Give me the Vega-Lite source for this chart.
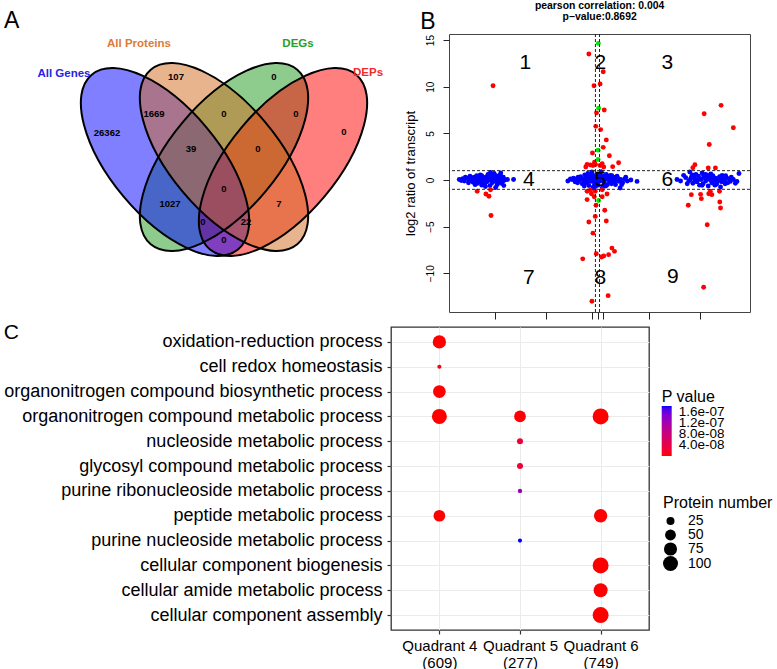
{
  "$schema": "https://vega.github.io/schema/vega-lite/v6.json",
  "padding": {"left": 3, "top": 0, "right": 0, "bottom": 0},
  "background": "white",
  "config": {
    "font": "Liberation Sans",
    "view": {"stroke": null},
    "axis": {"labelFont": "Liberation Sans", "titleFont": "Liberation Sans"},
    "legend": {"labelFont": "Liberation Sans", "titleFont": "Liberation Sans"}
  },
  "resolve": {"scale": {"color": "independent", "size": "independent"}, "legend": {"color": "independent", "size": "independent"}},
  "datasets": {
    "ellipses": [
      {"set": "DEGs", "x": 223, "y": 156, "tilt": -50},
      {"set": "DEPs", "x": 282, "y": 161, "tilt": -50},
      {"set": "All Genes", "x": 164, "y": 161, "tilt": 50},
      {"set": "All Proteins", "x": 223, "y": 156, "tilt": 50}
    ],
    "regions": [
      {"n": "26362", "x": 106, "y": 132}, {"n": "107", "x": 175, "y": 76}, {"n": "0", "x": 273, "y": 76},
      {"n": "0", "x": 343, "y": 131}, {"n": "1669", "x": 153, "y": 113}, {"n": "0", "x": 223, "y": 113},
      {"n": "0", "x": 295, "y": 113}, {"n": "39", "x": 190, "y": 148}, {"n": "0", "x": 257, "y": 148},
      {"n": "0", "x": 223, "y": 188}, {"n": "1027", "x": 169, "y": 203}, {"n": "7", "x": 278, "y": 203},
      {"n": "0", "x": 202, "y": 221}, {"n": "22", "x": 245, "y": 221}, {"n": "0", "x": 223, "y": 239}
    ],
    "setnames": [
      {"name": "All Genes", "x": 63, "y": 73}, {"name": "All Proteins", "x": 138, "y": 43},
      {"name": "DEGs", "x": 297, "y": 43}, {"name": "DEPs", "x": 367, "y": 72}
    ],
    "scatter": [
      {"p": -27.0, "t": 0.05, "type": "unchanged"}, {"p": -26.3, "t": 0.15, "type": "unchanged"}, {"p": -26.0, "t": -0.1, "type": "unchanged"},
      {"p": -25.4, "t": 0.2, "type": "unchanged"}, {"p": -25.1, "t": -0.05, "type": "unchanged"}, {"p": -24.6, "t": 0.1, "type": "unchanged"},
      {"p": -24.3, "t": -0.25, "type": "unchanged"}, {"p": -24.0, "t": 0.3, "type": "unchanged"}, {"p": -23.7, "t": 0.0, "type": "unchanged"},
      {"p": -23.4, "t": -0.35, "type": "unchanged"}, {"p": -23.1, "t": 0.25, "type": "unchanged"}, {"p": -22.8, "t": -0.1, "type": "unchanged"},
      {"p": -22.6, "t": 0.45, "type": "unchanged"}, {"p": -22.3, "t": 0.1, "type": "unchanged"}, {"p": -22.1, "t": -0.45, "type": "unchanged"},
      {"p": -21.8, "t": 0.3, "type": "unchanged"}, {"p": -21.6, "t": -0.2, "type": "unchanged"}, {"p": -21.4, "t": 0.6, "type": "unchanged"},
      {"p": -21.2, "t": 0.0, "type": "unchanged"}, {"p": -21.0, "t": -0.6, "type": "unchanged"}, {"p": -20.8, "t": 0.35, "type": "unchanged"},
      {"p": -20.6, "t": -0.3, "type": "unchanged"}, {"p": -20.4, "t": 0.15, "type": "unchanged"}, {"p": -20.2, "t": 0.7, "type": "unchanged"},
      {"p": -20.0, "t": -0.15, "type": "unchanged"}, {"p": -19.8, "t": 0.45, "type": "unchanged"}, {"p": -19.6, "t": -0.5, "type": "unchanged"},
      {"p": -19.4, "t": 0.2, "type": "unchanged"}, {"p": -19.2, "t": -0.05, "type": "unchanged"}, {"p": -19.0, "t": 0.55, "type": "unchanged"},
      {"p": -18.8, "t": -0.35, "type": "unchanged"}, {"p": -18.6, "t": 0.1, "type": "unchanged"}, {"p": -18.4, "t": 0.3, "type": "unchanged"},
      {"p": -18.3, "t": -0.6, "type": "unchanged"}, {"p": -18.1, "t": 0.0, "type": "unchanged"}, {"p": -17.6, "t": 0.05, "type": "unchanged"},
      {"p": -16.4, "t": 0.05, "type": "unchanged"}, {"p": -24.9, "t": 0.4, "type": "unchanged"}, {"p": -23.9, "t": -0.5, "type": "unchanged"},
      {"p": -22.9, "t": 0.55, "type": "unchanged"}, {"p": -21.9, "t": -0.7, "type": "unchanged"}, {"p": -20.9, "t": 0.8, "type": "unchanged"},
      {"p": -19.9, "t": -0.8, "type": "unchanged"}, {"p": -22.0, "t": 0.2, "type": "unchanged"}, {"p": -20.5, "t": -0.05, "type": "unchanged"},
      {"p": -23.0, "t": 0.0, "type": "unchanged"}, {"p": -21.3, "t": 0.25, "type": "unchanged"}, {"p": -19.7, "t": 0.1, "type": "unchanged"},
      {"p": -26.6, "t": -0.05, "type": "unchanged"}, {"p": -25.8, "t": 0.3, "type": "unchanged"}, {"p": -25.2, "t": -0.3, "type": "unchanged"},
      {"p": -24.4, "t": 0.25, "type": "unchanged"}, {"p": -23.6, "t": 0.45, "type": "unchanged"}, {"p": -23.2, "t": -0.15, "type": "unchanged"},
      {"p": -22.4, "t": -0.3, "type": "unchanged"}, {"p": -21.7, "t": 0.05, "type": "unchanged"}, {"p": -20.7, "t": 0.55, "type": "unchanged"},
      {"p": -20.1, "t": 0.3, "type": "unchanged"}, {"p": -19.5, "t": -0.25, "type": "unchanged"}, {"p": -19.1, "t": 0.25, "type": "unchanged"},
      {"p": -18.9, "t": 0.75, "type": "unchanged"}, {"p": -18.5, "t": -0.15, "type": "unchanged"}, {"p": -22.6, "t": -0.55, "type": "unchanged"},
      {"p": -21.1, "t": 0.45, "type": "unchanged"},
      {"p": -5.8, "t": -0.1, "type": "unchanged"}, {"p": -5.0, "t": 0.05, "type": "unchanged"}, {"p": -4.4, "t": -0.2, "type": "unchanged"},
      {"p": -4.0, "t": 0.15, "type": "unchanged"}, {"p": -3.6, "t": -0.05, "type": "unchanged"}, {"p": -3.3, "t": 0.35, "type": "unchanged"},
      {"p": -3.0, "t": -0.4, "type": "unchanged"}, {"p": -2.8, "t": 0.1, "type": "unchanged"}, {"p": -2.5, "t": 0.55, "type": "unchanged"},
      {"p": -2.3, "t": -0.25, "type": "unchanged"}, {"p": -2.1, "t": 0.0, "type": "unchanged"}, {"p": -1.9, "t": 0.7, "type": "unchanged"},
      {"p": -1.7, "t": -0.6, "type": "unchanged"}, {"p": -1.5, "t": 0.3, "type": "unchanged"}, {"p": -1.3, "t": -0.15, "type": "unchanged"},
      {"p": -1.1, "t": 0.85, "type": "unchanged"}, {"p": -0.9, "t": -0.8, "type": "unchanged"}, {"p": -0.7, "t": 0.45, "type": "unchanged"},
      {"p": -0.5, "t": -0.35, "type": "unchanged"}, {"p": -0.3, "t": 0.1, "type": "unchanged"}, {"p": -0.1, "t": 0.65, "type": "unchanged"},
      {"p": 0.1, "t": -0.55, "type": "unchanged"}, {"p": 0.3, "t": 0.25, "type": "unchanged"}, {"p": 0.5, "t": -0.1, "type": "unchanged"},
      {"p": 0.7, "t": 0.9, "type": "unchanged"}, {"p": 0.9, "t": -0.85, "type": "unchanged"}, {"p": 1.1, "t": 0.4, "type": "unchanged"},
      {"p": 1.3, "t": -0.3, "type": "unchanged"}, {"p": 1.5, "t": 0.05, "type": "unchanged"}, {"p": 1.7, "t": 0.6, "type": "unchanged"},
      {"p": 1.9, "t": -0.5, "type": "unchanged"}, {"p": 2.1, "t": 0.2, "type": "unchanged"}, {"p": 2.3, "t": -0.15, "type": "unchanged"},
      {"p": 2.5, "t": 0.5, "type": "unchanged"}, {"p": 2.7, "t": -0.4, "type": "unchanged"}, {"p": 2.9, "t": 0.1, "type": "unchanged"},
      {"p": 3.1, "t": 0.3, "type": "unchanged"}, {"p": 3.3, "t": -0.25, "type": "unchanged"}, {"p": 3.6, "t": 0.0, "type": "unchanged"},
      {"p": 3.9, "t": 0.2, "type": "unchanged"}, {"p": 4.2, "t": -0.15, "type": "unchanged"}, {"p": 4.5, "t": 0.05, "type": "unchanged"},
      {"p": 4.9, "t": -0.3, "type": "unchanged"}, {"p": 5.3, "t": 0.1, "type": "unchanged"}, {"p": 5.8, "t": -0.1, "type": "unchanged"},
      {"p": 6.5, "t": 0.0, "type": "unchanged"}, {"p": 7.7, "t": -0.15, "type": "unchanged"}, {"p": -1.0, "t": 0.2, "type": "unchanged"},
      {"p": 0.0, "t": -0.2, "type": "unchanged"}, {"p": 1.0, "t": 0.0, "type": "unchanged"}, {"p": 2.0, "t": 0.35, "type": "unchanged"},
      {"p": -2.0, "t": -0.3, "type": "unchanged"}, {"p": 0.6, "t": 0.5, "type": "unchanged"}, {"p": -0.6, "t": -0.5, "type": "unchanged"},
      {"p": 1.6, "t": -0.65, "type": "unchanged"}, {"p": -1.6, "t": 0.45, "type": "unchanged"}, {"p": 3.5, "t": -0.5, "type": "unchanged"},
      {"p": -3.8, "t": 0.3, "type": "unchanged"}, {"p": 4.4, "t": -0.85, "type": "unchanged"}, {"p": -2.6, "t": -0.65, "type": "unchanged"},
      {"p": -4.7, "t": 0.2, "type": "unchanged"}, {"p": -3.9, "t": -0.3, "type": "unchanged"}, {"p": -3.4, "t": 0.1, "type": "unchanged"},
      {"p": -2.7, "t": -0.1, "type": "unchanged"}, {"p": -2.2, "t": 0.35, "type": "unchanged"}, {"p": -1.8, "t": 0.1, "type": "unchanged"},
      {"p": -1.2, "t": 0.55, "type": "unchanged"}, {"p": -0.8, "t": 0.0, "type": "unchanged"}, {"p": -0.4, "t": -0.7, "type": "unchanged"},
      {"p": 0.2, "t": 0.45, "type": "unchanged"}, {"p": 0.8, "t": 0.2, "type": "unchanged"}, {"p": 1.2, "t": -0.55, "type": "unchanged"},
      {"p": 1.8, "t": 0.25, "type": "unchanged"}, {"p": 2.4, "t": 0.0, "type": "unchanged"}, {"p": 2.8, "t": 0.45, "type": "unchanged"},
      {"p": 3.2, "t": -0.05, "type": "unchanged"}, {"p": 3.8, "t": 0.4, "type": "unchanged"}, {"p": 4.7, "t": -0.5, "type": "unchanged"},
      {"p": 5.5, "t": 0.3, "type": "unchanged"}, {"p": -5.3, "t": 0.1, "type": "unchanged"},
      {"p": 15.5, "t": 0.05, "type": "unchanged"}, {"p": 16.8, "t": 0.5, "type": "unchanged"}, {"p": 18.0, "t": 0.85, "type": "unchanged"},
      {"p": 17.8, "t": -0.1, "type": "unchanged"}, {"p": 18.3, "t": 0.3, "type": "unchanged"}, {"p": 18.6, "t": -0.35, "type": "unchanged"},
      {"p": 18.9, "t": 0.15, "type": "unchanged"}, {"p": 19.2, "t": 0.6, "type": "unchanged"}, {"p": 19.4, "t": -0.2, "type": "unchanged"},
      {"p": 19.7, "t": 0.4, "type": "unchanged"}, {"p": 19.9, "t": -0.55, "type": "unchanged"}, {"p": 20.2, "t": 0.05, "type": "unchanged"},
      {"p": 20.4, "t": 0.75, "type": "unchanged"}, {"p": 20.6, "t": -0.4, "type": "unchanged"}, {"p": 20.9, "t": 0.25, "type": "unchanged"},
      {"p": 21.1, "t": -0.1, "type": "unchanged"}, {"p": 21.3, "t": 0.55, "type": "unchanged"}, {"p": 21.6, "t": -0.65, "type": "unchanged"},
      {"p": 21.8, "t": 0.35, "type": "unchanged"}, {"p": 22.0, "t": 0.0, "type": "unchanged"}, {"p": 22.3, "t": -0.3, "type": "unchanged"},
      {"p": 22.5, "t": 0.45, "type": "unchanged"}, {"p": 22.7, "t": -0.05, "type": "unchanged"}, {"p": 23.0, "t": 0.2, "type": "unchanged"},
      {"p": 23.2, "t": -0.45, "type": "unchanged"}, {"p": 23.5, "t": 0.1, "type": "unchanged"}, {"p": 23.8, "t": 0.35, "type": "unchanged"},
      {"p": 24.0, "t": -0.75, "type": "unchanged"}, {"p": 24.2, "t": -0.2, "type": "unchanged"}, {"p": 24.5, "t": 0.15, "type": "unchanged"},
      {"p": 24.8, "t": -0.1, "type": "unchanged"}, {"p": 25.1, "t": 0.25, "type": "unchanged"}, {"p": 25.4, "t": -0.3, "type": "unchanged"},
      {"p": 25.9, "t": -0.15, "type": "unchanged"}, {"p": 26.5, "t": 0.05, "type": "unchanged"}, {"p": 27.2, "t": -0.15, "type": "unchanged"},
      {"p": 27.6, "t": 0.7, "type": "unchanged"}, {"p": 19.0, "t": -0.15, "type": "unchanged"}, {"p": 21.0, "t": 0.6, "type": "unchanged"},
      {"p": 22.9, "t": -0.55, "type": "unchanged"}, {"p": 20.0, "t": 0.1, "type": "unchanged"}, {"p": 23.9, "t": 0.0, "type": "unchanged"},
      {"p": 18.5, "t": 0.55, "type": "unchanged"}, {"p": 25.0, "t": 0.45, "type": "unchanged"}, {"p": 20.4, "t": -0.57, "type": "unchanged"},
      {"p": 16.2, "t": -0.1, "type": "unchanged"}, {"p": 17.2, "t": 0.25, "type": "unchanged"}, {"p": 17.5, "t": -0.4, "type": "unchanged"},
      {"p": 18.1, "t": 0.05, "type": "unchanged"}, {"p": 18.8, "t": 0.3, "type": "unchanged"}, {"p": 19.5, "t": 0.0, "type": "unchanged"},
      {"p": 20.7, "t": 0.45, "type": "unchanged"}, {"p": 21.4, "t": 0.15, "type": "unchanged"}, {"p": 22.1, "t": 0.65, "type": "unchanged"},
      {"p": 22.6, "t": 0.25, "type": "unchanged"}, {"p": 23.4, "t": -0.2, "type": "unchanged"}, {"p": 24.3, "t": 0.5, "type": "unchanged"},
      {"p": 24.9, "t": -0.4, "type": "unchanged"}, {"p": 25.6, "t": 0.15, "type": "unchanged"}, {"p": 26.1, "t": 0.3, "type": "unchanged"},
      {"p": 26.9, "t": -0.35, "type": "unchanged"},
      {"p": -20.4, "t": 10.1, "type": "DEP"}, {"p": -23.5, "t": -1.2, "type": "DEP"}, {"p": -21.8, "t": -1.5, "type": "DEP"},
      {"p": -21.2, "t": -1.75, "type": "DEP"}, {"p": -20.9, "t": -1.05, "type": "DEP"}, {"p": -20.8, "t": -3.8, "type": "DEP"},
      {"p": -1.7, "t": 13.5, "type": "DEP"}, {"p": 1.1, "t": 11.6, "type": "DEP"}, {"p": 0.5, "t": 10.3, "type": "DEP"},
      {"p": -0.7, "t": 10.1, "type": "DEP"}, {"p": 1.3, "t": 7.5, "type": "DEP"}, {"p": -0.2, "t": 7.2, "type": "DEP"},
      {"p": -0.35, "t": 5.75, "type": "DEP"}, {"p": 0.6, "t": 5.4, "type": "DEP"}, {"p": 1.7, "t": 4.3, "type": "DEP"},
      {"p": 1.1, "t": 3.5, "type": "DEP"}, {"p": -1.0, "t": 2.9, "type": "DEP"}, {"p": 2.3, "t": 2.6, "type": "DEP"},
      {"p": 4.1, "t": 1.85, "type": "DEP"}, {"p": 2.95, "t": 1.43, "type": "DEP"}, {"p": -2.05, "t": 1.68, "type": "DEP"},
      {"p": -1.4, "t": 1.6, "type": "DEP"}, {"p": -0.9, "t": 1.55, "type": "DEP"}, {"p": -0.4, "t": 1.65, "type": "DEP"},
      {"p": 0.5, "t": 1.55, "type": "DEP"}, {"p": 1.2, "t": 1.4, "type": "DEP"}, {"p": -2.3, "t": 1.4, "type": "DEP"},
      {"p": -0.6, "t": 1.9, "type": "DEP"}, {"p": 0.9, "t": 1.75, "type": "DEP"},
      {"p": -2.05, "t": -1.2, "type": "DEP"}, {"p": -1.4, "t": -1.1, "type": "DEP"}, {"p": -1.2, "t": -1.47, "type": "DEP"},
      {"p": -0.45, "t": -1.2, "type": "DEP"}, {"p": 0.9, "t": -1.05, "type": "DEP"}, {"p": 1.85, "t": -1.5, "type": "DEP"},
      {"p": -0.65, "t": -1.8, "type": "DEP"}, {"p": 0.9, "t": -1.8, "type": "DEP"}, {"p": -2.05, "t": -2.1, "type": "DEP"},
      {"p": -0.3, "t": -2.7, "type": "DEP"}, {"p": 1.4, "t": -3.25, "type": "DEP"}, {"p": -0.45, "t": -3.9, "type": "DEP"},
      {"p": 1.7, "t": -4.4, "type": "DEP"}, {"p": -1.7, "t": -4.5, "type": "DEP"}, {"p": -0.9, "t": -5.7, "type": "DEP"},
      {"p": 2.8, "t": -7.3, "type": "DEP"}, {"p": 3.3, "t": -7.65, "type": "DEP"}, {"p": 2.15, "t": -8.0, "type": "DEP"},
      {"p": 1.2, "t": -8.15, "type": "DEP"}, {"p": 0.75, "t": -8.25, "type": "DEP"}, {"p": -0.25, "t": -7.9, "type": "DEP"},
      {"p": -2.9, "t": -8.45, "type": "DEP"}, {"p": 2.05, "t": -12.4, "type": "DEP"}, {"p": -1.1, "t": -13.0, "type": "DEP"},
      {"p": 20.8, "t": 7.1, "type": "DEP"}, {"p": 24.1, "t": 8.0, "type": "DEP"}, {"p": 26.5, "t": 5.6, "type": "DEP"},
      {"p": 21.8, "t": 3.8, "type": "DEP"}, {"p": 19.0, "t": 1.64, "type": "DEP"}, {"p": 18.6, "t": 1.32, "type": "DEP"},
      {"p": 21.6, "t": 1.29, "type": "DEP"}, {"p": 23.0, "t": 1.29, "type": "DEP"}, {"p": 20.1, "t": -1.54, "type": "DEP"},
      {"p": 20.25, "t": -2.0, "type": "DEP"}, {"p": 21.7, "t": -1.47, "type": "DEP"}, {"p": 22.3, "t": -1.57, "type": "DEP"},
      {"p": 22.0, "t": -1.2, "type": "DEP"}, {"p": 23.8, "t": -1.2, "type": "DEP"}, {"p": 23.85, "t": -2.36, "type": "DEP"},
      {"p": 24.0, "t": -3.0, "type": "DEP"}, {"p": 17.7, "t": -2.7, "type": "DEP"}, {"p": 18.3, "t": -1.57, "type": "DEP"},
      {"p": 21.4, "t": -4.8, "type": "DEP"}, {"p": 20.7, "t": -11.5, "type": "DEP"},
      {"p": 0.15, "t": 14.65, "type": "DEG"}, {"p": 0.2, "t": 7.7, "type": "DEG"}, {"p": 0.1, "t": 3.2, "type": "DEG"},
      {"p": 0.1, "t": 2.2, "type": "DEG"}, {"p": 0.2, "t": -2.2, "type": "DEG"}
    ],
    "quadrants": [
      {"q": "1", "p": -14.1, "t": 12.5}, {"q": "2", "p": 0.55, "t": 12.5}, {"q": "3", "p": 13.6, "t": 12.5},
      {"q": "4", "p": -13.4, "t": 0}, {"q": "5", "p": 0.55, "t": 0}, {"q": "6", "p": 13.6, "t": 0},
      {"q": "7", "p": -13.4, "t": -10.55}, {"q": "8", "p": 0.55, "t": -10.55}, {"q": "9", "p": 14.7, "t": -10.4}
    ],
    "go": [
      {"term": "oxidation-reduction process", "quadrant": "Quadrant 4 (609)", "count": 78, "pvalue": 2e-10},
      {"term": "cell redox homeostasis", "quadrant": "Quadrant 4 (609)", "count": 3, "pvalue": 5e-9},
      {"term": "organonitrogen compound biosynthetic process", "quadrant": "Quadrant 4 (609)", "count": 70, "pvalue": 3e-10},
      {"term": "organonitrogen compound metabolic process", "quadrant": "Quadrant 4 (609)", "count": 100, "pvalue": 1e-10},
      {"term": "peptide metabolic process", "quadrant": "Quadrant 4 (609)", "count": 59, "pvalue": 6e-10},
      {"term": "organonitrogen compound metabolic process", "quadrant": "Quadrant 5 (277)", "count": 59, "pvalue": 1e-9},
      {"term": "nucleoside metabolic process", "quadrant": "Quadrant 5 (277)", "count": 12, "pvalue": 2.8e-8},
      {"term": "glycosyl compound metabolic process", "quadrant": "Quadrant 5 (277)", "count": 12, "pvalue": 2.8e-8},
      {"term": "purine ribonucleoside metabolic process", "quadrant": "Quadrant 5 (277)", "count": 4, "pvalue": 1.3e-7},
      {"term": "purine nucleoside metabolic process", "quadrant": "Quadrant 5 (277)", "count": 3, "pvalue": 1.8e-7},
      {"term": "organonitrogen compound metabolic process", "quadrant": "Quadrant 6 (749)", "count": 114, "pvalue": 1e-10},
      {"term": "peptide metabolic process", "quadrant": "Quadrant 6 (749)", "count": 78, "pvalue": 5e-10},
      {"term": "cellular component biogenesis", "quadrant": "Quadrant 6 (749)", "count": 114, "pvalue": 2e-10},
      {"term": "cellular amide metabolic process", "quadrant": "Quadrant 6 (749)", "count": 86, "pvalue": 4e-10},
      {"term": "cellular component assembly", "quadrant": "Quadrant 6 (749)", "count": 114, "pvalue": 3e-10}
    ]
  },
  "spacing": 1,
  "vconcat": [
    {
      "spacing": 7,
      "resolve": {"scale": {"color": "independent"}, "legend": {"color": "independent"}},
      "hconcat": [
        {
          "width": 5,
          "height": 5,
          "view": {"stroke": null},
          "resolve": {"scale": {"color": "independent"}},
          "layer": [
            {
              "data": {"name": "ellipses"},
              "mark": {"type": "point", "shape": "M -1 0 C -1 -0.2616 -0.5523 -0.4737 0 -0.4737 C 0.5523 -0.4737 1 -0.2616 1 0 C 1 0.2616 0.5523 0.4737 0 0.4737 C -0.5523 0.4737 -1 0.2616 -1 0 Z", "filled": true, "size": 51984, "fillOpacity": 0.5, "strokeWidth": 0, "opacity": 1},
              "encoding": {
                "x": {"field": "x", "type": "quantitative", "scale": {"domain": [390, 395], "nice": false, "zero": false}, "axis": null},
                "y": {"field": "y", "type": "quantitative", "scale": {"domain": [33, 38], "nice": false, "zero": false, "reverse": true}, "axis": null},
                "angle": {"field": "tilt", "type": "quantitative", "scale": null},
                "color": {"field": "set", "type": "nominal", "scale": {"domain": ["All Genes", "All Proteins", "DEGs", "DEPs"], "range": ["#0000FF", "#D2691E", "#1E9A1E", "#FF0000"]}, "legend": null}
              }
            },
            {
              "data": {"name": "ellipses"},
              "mark": {"type": "point", "shape": "M -1 0 C -1 -0.2616 -0.5523 -0.4737 0 -0.4737 C 0.5523 -0.4737 1 -0.2616 1 0 C 1 0.2616 0.5523 0.4737 0 0.4737 C -0.5523 0.4737 -1 0.2616 -1 0 Z", "filled": false, "size": 51984, "color": "black", "strokeWidth": 2, "opacity": 1},
              "encoding": {
                "x": {"field": "x", "type": "quantitative"},
                "y": {"field": "y", "type": "quantitative"},
                "angle": {"field": "tilt", "type": "quantitative", "scale": null}
              }
            },
            {
              "data": {"name": "regions"},
              "mark": {"type": "text", "fontSize": 9.5, "fontWeight": "bold", "color": "black", "align": "center", "baseline": "middle"},
              "encoding": {
                "x": {"field": "x", "type": "quantitative"},
                "y": {"field": "y", "type": "quantitative"},
                "text": {"field": "n"}
              }
            },
            {
              "data": {"name": "setnames"},
              "mark": {"type": "text", "fontSize": 11.5, "fontWeight": "bold", "align": "center", "baseline": "middle"},
              "encoding": {
                "x": {"field": "x", "type": "quantitative"},
                "y": {"field": "y", "type": "quantitative"},
                "text": {"field": "name"},
                "color": {"field": "name", "type": "nominal", "scale": {"domain": ["All Genes", "All Proteins", "DEGs", "DEPs"], "range": ["#2323E6", "#E07A36", "#27A027", "#F52A2A"]}, "legend": null}
              }
            },
            {
              "data": {"values": [{"panel": "A", "x": 3, "y": 27}]},
              "mark": {"type": "text", "fontSize": 23, "align": "left", "baseline": "alphabetic", "color": "black"},
              "encoding": {
                "x": {"field": "x", "type": "quantitative"},
                "y": {"field": "y", "type": "quantitative"},
                "text": {"field": "panel"}
              }
            }
          ]
        },
        {
          "vconcat": [
            {
              "width": 301,
              "height": 278,
              "view": {"stroke": "#444", "strokeWidth": 1},
              "layer": [
                {
                  "data": {"name": "scatter"},
                  "mark": {"type": "circle", "size": 24, "opacity": 1},
                  "encoding": {
                    "x": {"field": "p", "type": "quantitative", "scale": {"domain": [-29, 29.75], "nice": false, "zero": false},
                      "axis": {"values": [-20, -10, -1, 0, 1, 10, 20], "labels": false, "tickSize": 7, "tickColor": "#222", "domain": false, "grid": false, "title": null}},
                    "y": {"field": "t", "type": "quantitative", "scale": {"domain": [-14.15, 15.65], "nice": false, "zero": false},
                      "axis": {"values": [-10, -5, 0, 5, 10, 15], "labelAngle": -90, "labelAlign": "center", "labelBaseline": "bottom", "labelFontSize": 10, "labelColor": "black", "labelPadding": 8, "tickSize": 6, "tickColor": "#222", "domain": false, "grid": false, "title": "log2 ratio of transcript", "titleFontSize": 13, "titleFontWeight": "normal", "titleColor": "black", "titlePadding": 8}},
                    "color": {"field": "type", "type": "nominal", "scale": {"domain": ["unchanged", "DEP", "DEG"], "range": ["#0000FF", "#FF0000", "#00E600"]}, "legend": null}
                  }
                },
                {
                  "data": {"values": [{"t": 1}, {"t": -1}]},
                  "mark": {"type": "rule", "color": "#222", "strokeWidth": 1, "strokeDash": [3, 2]},
                  "encoding": {"y": {"field": "t", "type": "quantitative"}}
                },
                {
                  "data": {"values": [{"p": -0.42}, {"p": 0.38}]},
                  "mark": {"type": "rule", "color": "#222", "strokeWidth": 1, "strokeDash": [3, 2]},
                  "encoding": {"x": {"field": "p", "type": "quantitative"}}
                },
                {
                  "data": {"name": "quadrants"},
                  "mark": {"type": "text", "fontSize": 21, "color": "black", "align": "center", "baseline": "middle"},
                  "encoding": {
                    "x": {"field": "p", "type": "quantitative"},
                    "y": {"field": "t", "type": "quantitative"},
                    "text": {"field": "q"}
                  }
                },
                {
                  "data": {"values": [{"label": "pearson correlation: 0.004", "p": 0.39, "t": 18.36}, {"label": "p−value:0.8692", "p": 0.39, "t": 17.12}]},
                  "mark": {"type": "text", "fontSize": 10.4, "fontWeight": "bold", "color": "black", "align": "center", "baseline": "alphabetic"},
                  "encoding": {
                    "x": {"field": "p", "type": "quantitative"},
                    "y": {"field": "t", "type": "quantitative"},
                    "text": {"field": "label"}
                  }
                },
                {
                  "data": {"values": [{"panel": "B", "p": -34.6, "t": 16.18}]},
                  "mark": {"type": "text", "fontSize": 23, "color": "black", "align": "left", "baseline": "alphabetic"},
                  "encoding": {
                    "x": {"field": "p", "type": "quantitative"},
                    "y": {"field": "t", "type": "quantitative"},
                    "text": {"field": "panel"}
                  }
                }
              ]
            }
          ]
        }
      ]
    },
    {
      "resolve": {"scale": {"color": "independent", "size": "independent"}, "legend": {"color": "independent", "size": "independent"}},
      "vconcat": [
        {
          "width": 258,
          "height": 303,
          "view": {"stroke": "#333333", "strokeWidth": 1.3},
          "title": {"text": "C", "anchor": "start", "frame": "bounds", "fontSize": 21, "fontWeight": "normal", "color": "black", "baseline": "alphabetic", "offset": -33},
          "data": {"name": "go"},
          "mark": {"type": "circle", "opacity": 1},
          "encoding": {
            "x": {"field": "quadrant", "type": "nominal", "sort": ["Quadrant 4 (609)", "Quadrant 5 (277)", "Quadrant 6 (749)"], "scale": {"type": "point", "padding": 0.6},
              "axis": {"title": null, "labelAngle": 0, "labelExpr": "[substring(datum.label, 0, 10), substring(datum.label, 11)]", "labelFontSize": 15, "labelLineHeight": 17, "labelColor": "black", "labelPadding": 4, "tickSize": 4, "tickColor": "#333", "tickWidth": 1.2, "domain": false, "grid": true, "gridColor": "#EBEBEB", "gridWidth": 1}},
            "y": {"field": "term", "type": "nominal", "sort": ["oxidation-reduction process", "cell redox homeostasis", "organonitrogen compound biosynthetic process", "organonitrogen compound metabolic process", "nucleoside metabolic process", "glycosyl compound metabolic process", "purine ribonucleoside metabolic process", "peptide metabolic process", "purine nucleoside metabolic process", "cellular component biogenesis", "cellular amide metabolic process", "cellular component assembly"], "scale": {"type": "point", "padding": 0.6},
              "axis": {"title": null, "labelFontSize": 18, "labelColor": "black", "labelLimit": 600, "labelPadding": 5, "tickSize": 4, "tickColor": "#333", "tickWidth": 1.2, "domain": false, "grid": true, "gridColor": "#EBEBEB", "gridWidth": 1}},
            "size": {"field": "count", "type": "quantitative", "scale": {"domain": [0, 100], "range": [10.3, 225], "zero": false},
              "legend": {"title": "Protein number", "orient": "none", "legendX": 272, "legendY": 168, "values": [25, 50, 75, 100], "symbolType": "circle", "symbolFillColor": "black", "symbolStrokeColor": "black", "symbolStrokeWidth": 0, "symbolOpacity": 1, "labelFontSize": 14, "labelColor": "black", "labelOffset": 10, "titleFontSize": 16, "titleFontWeight": "normal", "titleColor": "black", "titlePadding": 3, "rowPadding": 0}},
            "color": {"field": "pvalue", "type": "quantitative", "scale": {"domain": [0, 1.8e-7], "range": ["#FF0000", "#0000FF"], "interpolate": "lab"},
              "legend": {"title": "P value", "orient": "none", "legendX": 270.7, "legendY": 62, "direction": "vertical", "gradientLength": 50, "gradientThickness": 10, "gradientStrokeWidth": 0, "values": [4e-8, 8e-8, 1.2e-7, 1.6e-7], "labelExpr": "replace(format(datum.value, '.1e'), 'e-', 'e-0')", "labelFontSize": 13.5, "labelColor": "black", "labelOverlap": false, "labelOffset": 7, "titleFontSize": 16, "titleFontWeight": "normal", "titleColor": "black", "titlePadding": 1}}
          }
        }
      ]
    }
  ]
}
